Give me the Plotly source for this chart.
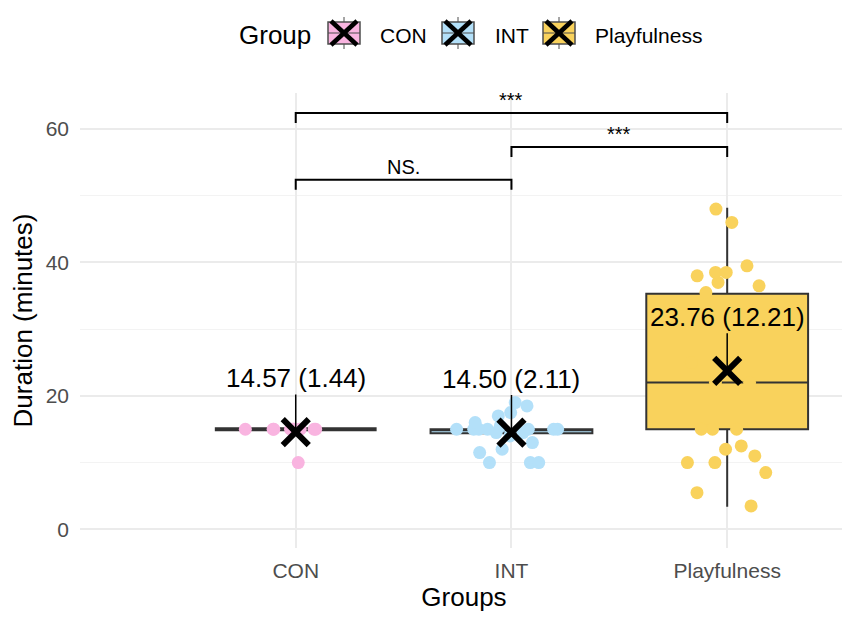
import plotly.graph_objects as go

groups = ["CON", "INT", "Playfulness"]
colors = ["#F9B4E0", "#B3E0F9", "#F9D25C"]

con_values = [15, 15, 15, 15, 15, 15, 15, 15, 15, 15, 15, 10]
int_values = [19, 18.5, 17.5, 17, 16, 15.5, 15, 15, 15, 15, 15, 15, 15,
              14.5, 14.5, 14, 13, 12, 11.5, 10, 10, 10]
play_values = [48, 46, 39.5, 38.5, 38.5, 38, 37, 36.5, 35.5, 25, 22, 22,
               15, 15, 15, 12.5, 12, 11, 10, 10, 8.5, 5.5, 3.5]
group_values = [con_values, int_values, play_values]

# box summary
q1 = [15, 14.4, 15]
median = [15, 15, 22]
q3 = [15, 15, 35.3]
lower = [15, 14.4, 3.4]
upper = [15, 15, 48.2]

means = [14.57, 14.50, 23.76]
sds = [1.44, 2.11, 12.21]

# significance brackets
pairs = [(0, 1), (1, 2), (0, 2)]
bracket_y = [52.4, 57.3, 62.4]
bracket_labels = ["NS.", "***", "***"]

FONT = "Liberation Sans, Arial, sans-serif"
box_line = [4, 2, 2]
jitters = [0.85, 0.9, 0.65]

# plot area in page pixels (used for the hand-drawn legend)
PL, PW, PT, PH = 80, 768, 93, 455


def px(x):
    return (x - PL) / PW


def py(y):
    return (PT + PH - y) / PH


fig = go.Figure()

for g, c, a, m, b, lo, hi, lw in zip(groups, colors, q1, median, q3, lower, upper, box_line):
    fig.add_trace(go.Box(
        x=[g], q1=[a], median=[m], q3=[b], lowerfence=[lo], upperfence=[hi],
        fillcolor=c, line=dict(color="#333333", width=lw),
        whiskerwidth=0, width=0.75, boxpoints=False, showlegend=False,
    ))

for g, c, vals, jit in zip(groups, colors, group_values, jitters):
    fig.add_trace(go.Box(
        x=[g] * len(vals), y=vals, boxpoints="all", jitter=jit, pointpos=0,
        fillcolor="rgba(0,0,0,0)", line=dict(color="rgba(0,0,0,0)", width=0),
        marker=dict(color=c, size=13), width=0.75, showlegend=False,
    ))

fig.add_trace(go.Scatter(
    x=groups, y=means, mode="markers", showlegend=False,
    marker=dict(symbol="x-thin", size=26, color="black",
                line=dict(color="black", width=6)),
))

for g, m, s in zip(groups, means, sds):
    fig.add_annotation(
        x=g, y=m, text=f"{m:.2f} ({s:.2f})", showarrow=True,
        arrowhead=0, arrowwidth=1.5, arrowcolor="black", ax=0, ay=-54,
        font=dict(size=26, color="black", family=FONT),
    )

for (i, j), h, lab in zip(pairs, bracket_y, bracket_labels):
    fig.add_trace(go.Scatter(
        x=[groups[i], groups[i], groups[j], groups[j]],
        y=[h - 1.5, h, h, h - 1.5], mode="lines",
        line=dict(color="black", width=2), showlegend=False,
    ))
    fig.add_annotation(
        x=(i + j) / 2, y=h, text=lab, showarrow=False, yanchor="bottom",
        font=dict(size=20, color="black", family=FONT),
    )

# legend drawn by hand so the keys look like the ggplot ones
key_cx = [344, 458, 559]
label_x = [378, 493, 593]
cy = 33
fig.add_annotation(x=px(237), y=py(35), xref="paper", yref="paper",
                   text="Group", showarrow=False, xanchor="left", yanchor="middle",
                   font=dict(size=26, color="black", family=FONT))
for g, c, kx, lx in zip(groups, colors, key_cx, label_x):
    line = dict(color="#4D4D4D", width=1)
    fig.add_shape(type="line", xref="paper", yref="paper",
                  x0=px(kx), x1=px(kx), y0=py(cy - 16), y1=py(cy + 16), line=line)
    fig.add_shape(type="rect", xref="paper", yref="paper",
                  x0=px(kx - 16), x1=px(kx + 16), y0=py(cy - 11), y1=py(cy + 11),
                  fillcolor=c, line=dict(color="#4D4D4D", width=1.5))
    fig.add_shape(type="line", xref="paper", yref="paper",
                  x0=px(kx - 16), x1=px(kx + 16), y0=py(cy), y1=py(cy), line=line)
    for sgn in (1, -1):
        fig.add_shape(type="line", xref="paper", yref="paper",
                      x0=px(kx - 13), x1=px(kx + 13),
                      y0=py(cy - 12 * sgn), y1=py(cy + 12 * sgn),
                      line=dict(color="black", width=4.5))
    fig.add_annotation(x=px(lx), y=py(35), xref="paper", yref="paper",
                       text=g, showarrow=False, xanchor="left", yanchor="middle",
                       font=dict(size=21, color="black", family=FONT))

fig.update_layout(
    width=850, height=620,
    template="plotly_white",
    plot_bgcolor="white",
    boxmode="overlay",
    showlegend=False,
    # the page puts the figure 8px in from the top-left corner
    margin=dict(l=72, r=10, t=85, b=80, autoexpand=False),
    font=dict(family=FONT, size=21, color="black"),
    xaxis=dict(
        title=dict(text="Groups", font=dict(size=26), standoff=4),
        categoryorder="array", categoryarray=groups, automargin=False,
        range=[-1.0, 2.56], showgrid=True, gridcolor="#EBEBEB", gridwidth=1.5,
        zeroline=False, showline=False, ticklabelstandoff=8,
        tickfont=dict(size=21, color="#4D4D4D"),
    ),
    yaxis=dict(
        title=dict(text="Duration (minutes)", font=dict(size=26), standoff=6),
        range=[-2.8, 65.4], tickvals=[0, 20, 40, 60], automargin=False,
        showgrid=True, gridcolor="#EBEBEB", gridwidth=1.5,
        minor=dict(dtick=10, showgrid=True, gridcolor="#F3F3F3", gridwidth=1),
        zeroline=False, showline=False, ticklabelstandoff=10,
        tickfont=dict(size=21, color="#4D4D4D"),
    ),
)

fig.write_html("out.html")
